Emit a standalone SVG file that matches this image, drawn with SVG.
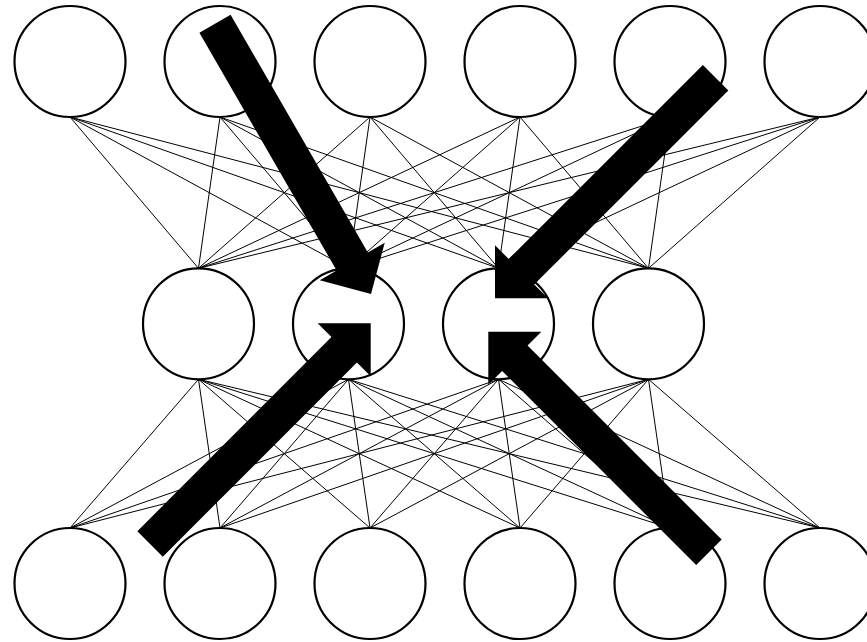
<svg xmlns="http://www.w3.org/2000/svg" xmlns:xlink="http://www.w3.org/1999/xlink" width="867" height="642" viewBox="0 0 867 642">
<style>
.node{fill:#fff;stroke:#000;stroke-width:2.2}
.edge{fill:none;stroke:#000;stroke-width:1}
.arrow{fill:#000;stroke:none}
</style>
<defs>
<polygon id="bigArrow" class="arrow" points="0,0 -37.5,-37.5 -37.5,-18 -312,-18 -312,18 -37.5,18 -37.5,37.5"/>
</defs>
<rect width="867" height="642" fill="#fff"/>
<g id="connectors">
<path class="edge" d="M70 117L198.5 268.3M70 117L348.5 268.3M70 117L498.5 268.3M70 117L648.5 268.3
M220 117L198.5 268.3M220 117L348.5 268.3M220 117L498.5 268.3M220 117L648.5 268.3
M370 117L198.5 268.3M370 117L348.5 268.3M370 117L498.5 268.3M370 117L648.5 268.3
M520 117L198.5 268.3M520 117L348.5 268.3M520 117L498.5 268.3M520 117L648.5 268.3
M670 117L198.5 268.3M670 117L348.5 268.3M670 117L498.5 268.3M670 117L648.5 268.3
M820 117L198.5 268.3M820 117L348.5 268.3M820 117L498.5 268.3M820 117L648.5 268.3"/>
<path class="edge" d="M198.5 379.3L70 528M198.5 379.3L220 528M198.5 379.3L370 528M198.5 379.3L520 528M198.5 379.3L670 528M198.5 379.3L820 528
M348.5 379.3L70 528M348.5 379.3L220 528M348.5 379.3L370 528M348.5 379.3L520 528M348.5 379.3L670 528M348.5 379.3L820 528
M498.5 379.3L70 528M498.5 379.3L220 528M498.5 379.3L370 528M498.5 379.3L520 528M498.5 379.3L670 528M498.5 379.3L820 528
M648.5 379.3L70 528M648.5 379.3L220 528M648.5 379.3L370 528M648.5 379.3L520 528M648.5 379.3L670 528M648.5 379.3L820 528"/>
</g>
<g id="top-1"><circle class="node" cx="70" cy="61.5" r="55.5"/></g>
<g id="top-2"><circle class="node" cx="220" cy="61.5" r="55.5"/></g>
<g id="top-3"><circle class="node" cx="370" cy="61.5" r="55.5"/></g>
<g id="top-4"><circle class="node" cx="520" cy="61.5" r="55.5"/></g>
<g id="top-5"><circle class="node" cx="670" cy="61.5" r="55.5"/></g>
<g id="top-6"><circle class="node" cx="820" cy="61.5" r="55.5"/></g>
<g id="mid-1"><circle class="node" cx="198.5" cy="323.8" r="55.5"/></g>
<g id="mid-2"><circle class="node" cx="348.5" cy="323.8" r="55.5"/></g>
<g id="mid-3"><circle class="node" cx="498.5" cy="323.8" r="55.5"/></g>
<g id="mid-4"><circle class="node" cx="648.5" cy="323.8" r="55.5"/></g>
<g id="bot-1"><circle class="node" cx="70" cy="583.5" r="55.5"/></g>
<g id="bot-2"><circle class="node" cx="220" cy="583.5" r="55.5"/></g>
<g id="bot-3"><circle class="node" cx="370" cy="583.5" r="55.5"/></g>
<g id="bot-4"><circle class="node" cx="520" cy="583.5" r="55.5"/></g>
<g id="bot-5"><circle class="node" cx="670" cy="583.5" r="55.5"/></g>
<g id="bot-6"><circle class="node" cx="820" cy="583.5" r="55.5"/></g>
<g id="arrows">
<use xlink:href="#bigArrow" href="#bigArrow" transform="translate(371,294) rotate(60)"/>
<use xlink:href="#bigArrow" href="#bigArrow" transform="translate(495,298.3) rotate(135)"/>
<use xlink:href="#bigArrow" href="#bigArrow" transform="translate(370.7,323.3) rotate(-45)"/>
<use xlink:href="#bigArrow" href="#bigArrow" transform="translate(488.3,331.7) rotate(-135)"/>
</g>
</svg>
